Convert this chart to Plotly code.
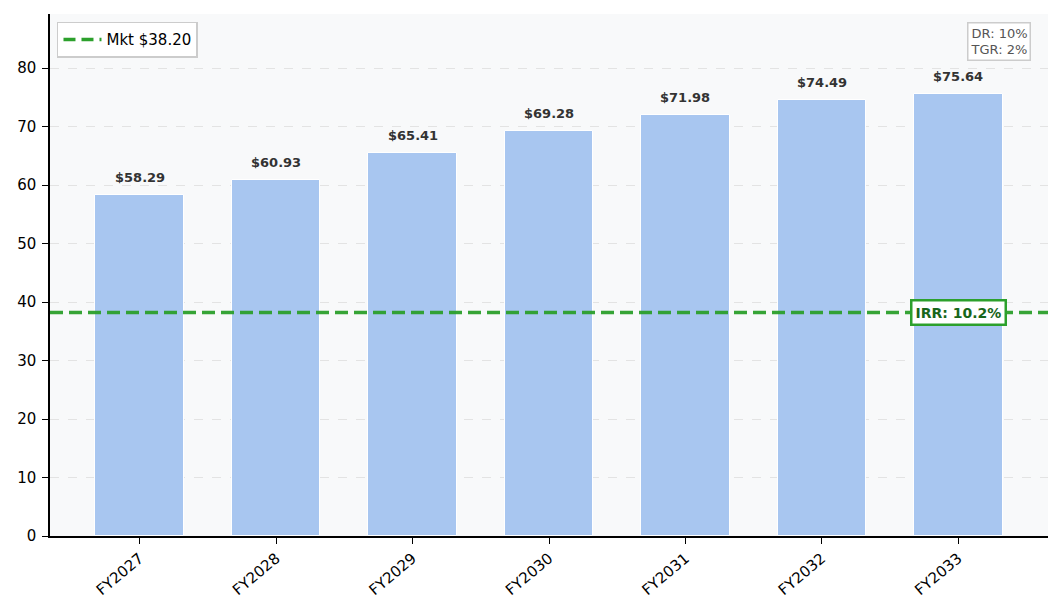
import plotly.graph_objects as go

years = ["FY2027", "FY2028", "FY2029", "FY2030", "FY2031", "FY2032", "FY2033"]
values = [58.29, 60.93, 65.41, 69.28, 71.98, 74.49, 75.64]
market_price = 38.20
irr_label = "IRR: 10.2%"
assumptions = "DR: 10%<br>TGR: 2%"

GREEN = "#2ca02c"
FONT = "DejaVu Sans"

fig = go.Figure()

fig.add_trace(go.Bar(
    x=list(range(len(years))), y=values, width=0.65,
    marker=dict(color="#a8c6f0", line=dict(color="white", width=1)),
    showlegend=False, hoverinfo="x+y",
))

# dummy trace so the market line shows in the legend
fig.add_trace(go.Scatter(
    x=[None], y=[None], mode="lines", name=f"Mkt ${market_price:.2f}",
    line=dict(color=GREEN, width=3.5, dash="12px,6px"),
))

fig.add_shape(
    type="line", xref="paper", x0=0, x1=1, yref="y", y0=market_price, y1=market_price,
    line=dict(color=GREEN, width=3.5, dash="13px,6px"), opacity=0.95,
)

for i, v in enumerate(values):
    fig.add_annotation(
        x=i, y=v, text=f"<b>${v:.2f}</b>", showarrow=False,
        yanchor="bottom", yshift=8,
        font=dict(family=FONT, size=13, color="#333333"),
    )

fig.add_annotation(
    x=len(years) - 1, y=market_price, text=f"<b>{irr_label}</b>", showarrow=False,
    font=dict(family=FONT, size=14, color="#17661a"),
    bgcolor="white", bordercolor=GREEN, borderwidth=2.5, borderpad=3,
)

fig.add_annotation(
    xref="paper", yref="paper", x=0.983, y=0.985, xanchor="right", yanchor="top",
    text=assumptions, showarrow=False, align="left",
    font=dict(family=FONT, size=13, color="#555555"),
    bgcolor="white", bordercolor="#cccccc", borderwidth=1.5, borderpad=2,
)

# the page adds an 8px body margin, so the figure is sized to fit inside it
fig.update_layout(
    width=1046, height=597,
    margin=dict(l=42, r=6, t=6, b=69),
    paper_bgcolor="white", plot_bgcolor="#f8f9fa",
    font=dict(family=FONT, size=15, color="black"),
    bargap=0,
    legend=dict(
        x=0.007, y=0.985, xanchor="left", yanchor="top",
        bgcolor="white", bordercolor="#cccccc", borderwidth=1.5,
        font=dict(family=FONT, size=15), itemwidth=38,
    ),
)

fig.update_xaxes(
    tickmode="array", tickvals=list(range(len(years))), ticktext=years,
    range=[-0.6575, len(years) - 1 + 0.6575], tickangle=-40,
    showline=True, linecolor="black", linewidth=1.5,
    ticks="outside", ticklen=6, tickcolor="black", showgrid=False, zeroline=False,
)

fig.update_yaxes(
    range=[0, max(values) * 1.18], dtick=10, ticklabelstandoff=3,
    showline=True, linecolor="black", linewidth=1.5,
    ticks="outside", ticklen=6, tickcolor="black",
    showgrid=True, gridcolor="#e3e3e3", griddash="dash", gridwidth=1, zeroline=False,
)

fig.write_html("out.html")
